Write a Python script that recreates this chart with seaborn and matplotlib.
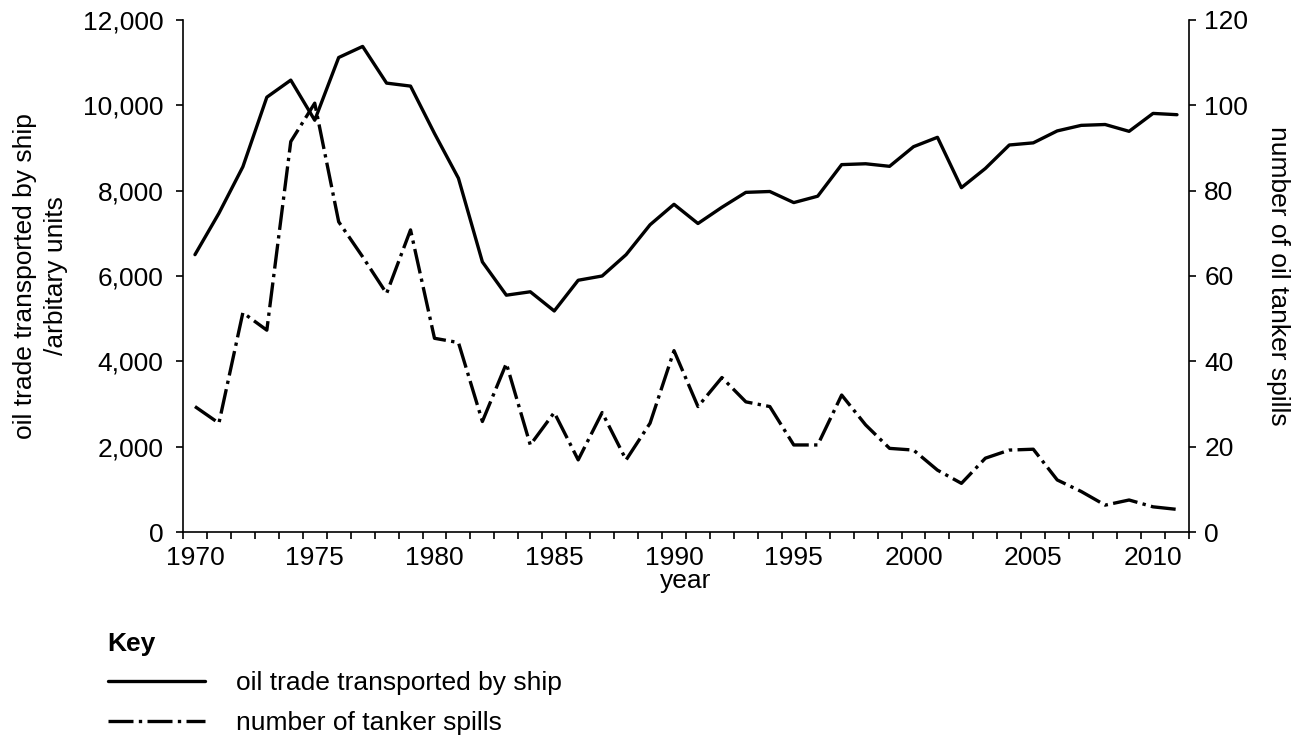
import numpy as np
import matplotlib
matplotlib.use("Agg")
import matplotlib.pyplot as plt
import pandas as pd
import seaborn as sns
from matplotlib.lines import Line2D
from matplotlib.ticker import FuncFormatter, MultipleLocator

# data
years = list(range(1970, 2012))
oil_trade = [6500, 7470, 8560, 10190, 10590, 9650, 11120, 11380, 10520, 10450,
             9340, 8290, 6330, 5550, 5630, 5180, 5900, 6000, 6500, 7200,
             7680, 7230, 7610, 7960, 7980, 7720, 7870, 8610, 8630, 8570,
             9030, 9250, 8070, 8520, 9070, 9120, 9400, 9530, 9550, 9390,
             9810, 9780]
tanker_spills = [29.4, 25.5, 51.4, 47.3, 91.5, 100.5, 72.7, 64.5, 55.9, 70.8,
                 45.4, 44.4, 25.9, 39.5, 20.4, 28.0, 16.9, 28.0, 16.9, 25.5,
                 42.5, 29.4, 36.2, 30.5, 29.4, 20.4, 20.4, 32.1, 25.1, 19.6,
                 19.2, 14.5, 11.4, 17.3, 19.2, 19.4, 12.2, 9.5, 6.3, 7.5,
                 5.9, 5.3]

df = pd.DataFrame({"year": years, "oil": oil_trade, "spills": tanker_spills})

sns.set_style("ticks")
plt.rcParams['font.family'] = ['Liberation Sans', 'DejaVu Sans']
plt.rcParams['font.size'] = 19
plt.rcParams['text.color'] = 'black'
plt.rcParams['axes.labelcolor'] = 'black'
plt.rcParams['xtick.color'] = 'black'
plt.rcParams['ytick.color'] = 'black'
plt.rcParams['axes.edgecolor'] = 'black'

fs = 19
fig = plt.figure(figsize=(13.09, 7.45), dpi=100)
ax = fig.add_axes([0.1398, 0.2859, 0.7685, 0.6873])
ax2 = ax.twinx()

lw = 2.4
sns.lineplot(data=df, x="year", y="oil", ax=ax, color="black", linewidth=lw)
sns.lineplot(data=df, x="year", y="spills", ax=ax2, color="black", linewidth=lw)
dash = [7.5, 1.6, 1.0, 1.6]
ax2.lines[0].set_dashes(dash)

ax.set_xlim(1969.5, 2011.5)
ax.set_ylim(0, 12000)
ax2.set_ylim(0, 120)
ax.set_yticks(np.arange(0, 12001, 2000))
ax2.set_yticks(np.arange(0, 121, 20))
ax.yaxis.set_major_formatter(FuncFormatter(lambda v, p: "{:,.0f}".format(v)))

ax.set_xticks(list(range(1970, 2011, 5)))
ax.xaxis.set_minor_locator(MultipleLocator(1, offset=0.5))
ax.tick_params(axis="x", which="major", length=0, pad=10, labelsize=fs)
ax.tick_params(axis="x", which="minor", length=5, width=1.2, direction="out")
ax.tick_params(axis="y", length=5, width=1.2, pad=9, labelsize=fs)
ax2.tick_params(axis="y", length=5, width=1.2, pad=6, labelsize=fs)

for a in (ax, ax2):
    a.spines["top"].set_visible(False)
    for s in ("left", "right", "bottom"):
        a.spines[s].set_linewidth(1.2)
ax.spines["right"].set_visible(False)
ax2.spines["left"].set_visible(False)
ax2.spines["bottom"].set_visible(False)

ax.set_xlabel("year", fontsize=fs, labelpad=-1)
ax.set_ylabel("oil trade transported by ship\n/arbitary units", fontsize=fs,
              labelpad=11, linespacing=1.35)
ax2.set_ylabel("number of oil tanker spills", fontsize=fs, rotation=270,
               labelpad=30)

handles = [Line2D([], [], color="black", linewidth=lw),
           Line2D([], [], color="black", linewidth=lw, dashes=dash)]
leg = fig.legend(handles, ["oil trade transported by ship", "number of tanker spills"],
                 loc="upper left", bbox_to_anchor=(0.064, 0.184), frameon=False,
                 title="Key", alignment="left", handlelength=3.7,
                 handletextpad=1.17, labelspacing=0.59, fontsize=fs,
                 title_fontproperties={"weight": "bold", "size": fs})

fig.savefig("out.png", dpi=100)
